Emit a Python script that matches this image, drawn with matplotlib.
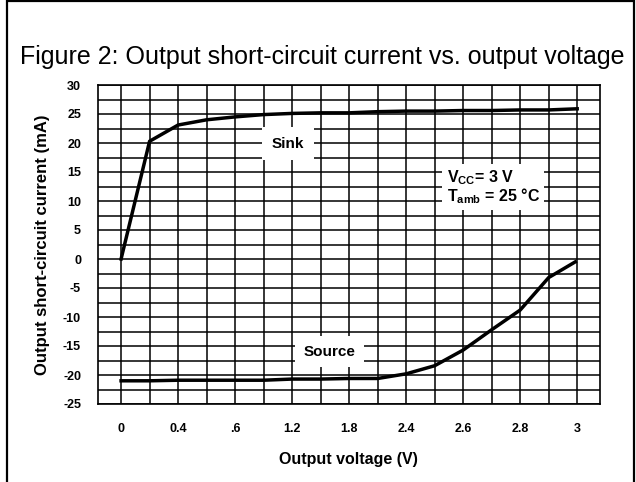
import matplotlib
matplotlib.use("Agg")
import matplotlib.pyplot as plt
from matplotlib.patches import Rectangle
import numpy as np

# ---- data (x in grid-index units, labels as printed) ----
x_index = list(range(17))
x_tick_pos = [0, 2, 4, 6, 8, 10, 12, 14, 16]
x_tick_labels = ["0", "0.4", ".6", "1.2", "1.8", "2.4", "2.6", "2.8", "3"]
y_ticks = [-25, -20, -15, -10, -5, 0, 5, 10, 15, 20, 25, 30]

sink = [0, 20.3, 23.1, 24.0, 24.5, 24.9, 25.1, 25.2, 25.2, 25.4, 25.5,
        25.5, 25.6, 25.6, 25.7, 25.7, 25.9]
source_x = [0, 1, 2, 3, 4, 5, 6, 7, 8, 9, 10, 11, 12, 13, 14, 15, 15.93]
source = [-21.0, -21.0, -20.9, -20.9, -20.9, -20.9, -20.7, -20.7, -20.6,
          -20.6, -19.8, -18.4, -15.7, -12.2, -8.8, -3.2, -0.5]

plt.rcParams['font.family'] = ['Liberation Sans', 'DejaVu Sans']
plt.rcParams['axes.unicode_minus'] = False
plt.rcParams['mathtext.fontset'] = 'custom'
plt.rcParams['mathtext.rm'] = 'Liberation Sans:bold'
plt.rcParams['mathtext.it'] = 'Liberation Sans:bold'
plt.rcParams['mathtext.bf'] = 'Liberation Sans:bold'

W, H = 636, 482
fig = plt.figure(figsize=(W / 100, H / 100), dpi=100)

# outer frame
fig.patches.append(Rectangle((7 / W, -0.05), (634 - 7) / W, 1.05 - 1 / H,
                             transform=fig.transFigure, fill=False,
                             edgecolor='black', linewidth=1.6))

ax = fig.add_axes([97.7 / W, 1 - 404 / H, (600 - 97.7) / W, (404 - 85) / H])
ax.set_xlim(-0.82, 16.8)
ax.set_ylim(-25, 30)

ax.set_xticks(x_tick_pos)
ax.set_xticklabels(x_tick_labels)
ax.set_xticks(x_index, minor=True)
ax.set_yticks(y_ticks)
ax.set_yticks(np.arange(-25, 30.1, 2.5), minor=True)
ax.tick_params(which='both', length=0)
ax.tick_params(axis='x', pad=14, labelsize=9)
ax.tick_params(axis='y', pad=12, labelsize=9)
for lab in ax.get_xticklabels() + ax.get_yticklabels():
    lab.set_fontweight('bold')

ax.grid(True, which='both', color='black', linewidth=1.1)
ax.set_axisbelow(True)
for s in ax.spines.values():
    s.set_linewidth(1.2)

ax.plot(x_index, sink, color='black', linewidth=2.5, zorder=6,
        solid_joinstyle='round')
ax.plot(source_x, source, color='black', linewidth=2.5, zorder=6,
        solid_joinstyle='round')

ax.text(5.85, 19.9, "Sink", fontsize=11, fontweight='bold', ha='center',
        va='center', bbox=dict(facecolor='white', edgecolor='none', pad=7),
        zorder=5)
ax.text(7.3, -16.0, "Source", fontsize=11, fontweight='bold', ha='center',
        va='center', bbox=dict(facecolor='white', edgecolor='none', pad=6),
        zorder=5)
ax.text(11.42, 12.4, "$V_{CC}$= 3 V\n$T_{amb}$ = 25 °C", fontsize=11.5,
        fontweight='bold', ha='left', va='center', linespacing=1.0,
        bbox=dict(facecolor='white', edgecolor='none', pad=3), zorder=5)

ax.set_xlabel("Output voltage (V)", fontsize=11.5, fontweight='bold',
              labelpad=12)
ax.set_ylabel("Output short-circuit current (mA)", fontsize=12,
              fontweight='bold', labelpad=9)

fig.text(322 / W, 1 - 57 / H,
         "Figure 2: Output short-circuit current vs. output voltage",
         fontsize=18, ha='center', va='center')

fig.savefig("out.png", dpi=100)
